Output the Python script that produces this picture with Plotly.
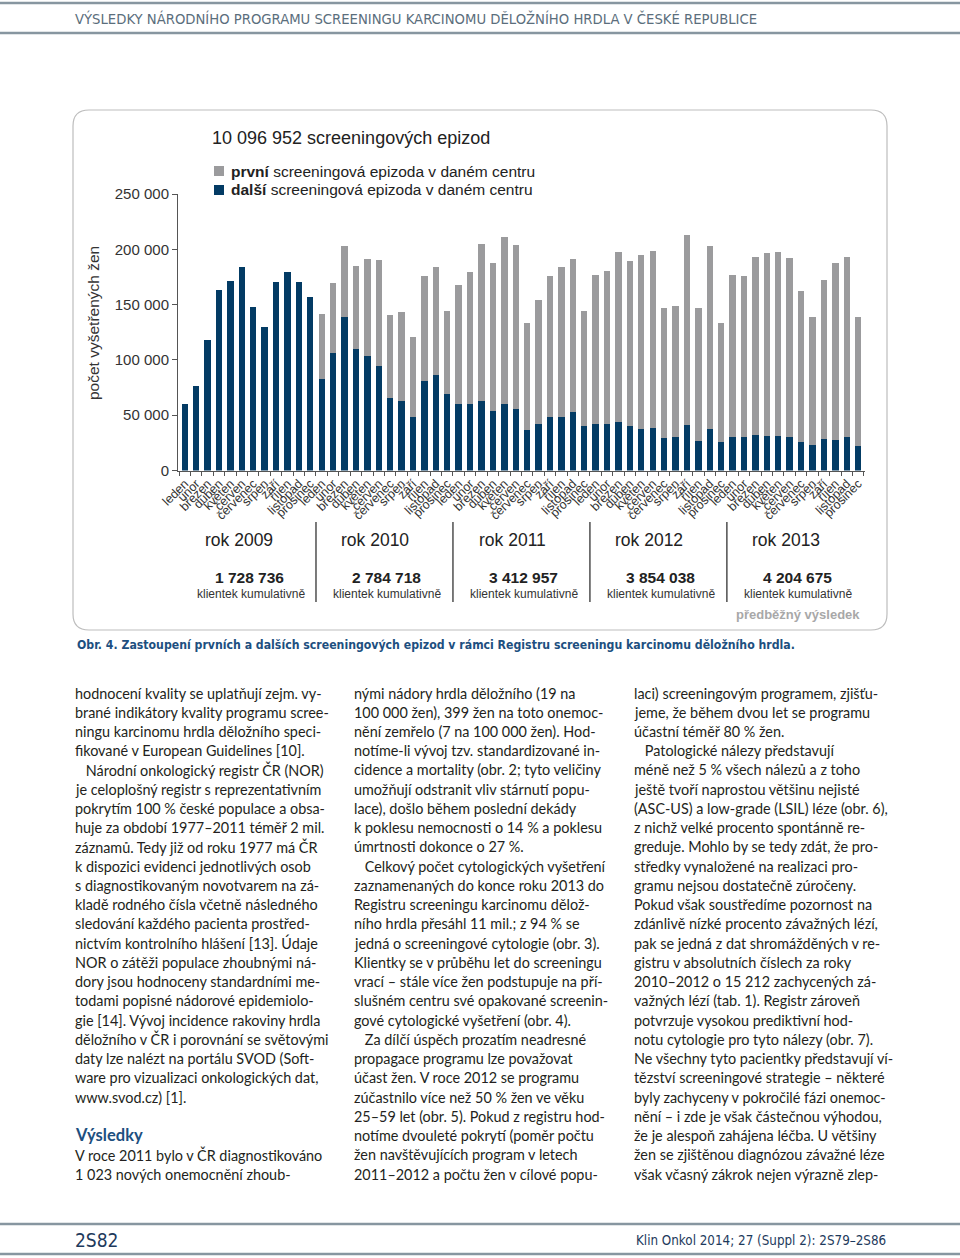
import plotly.graph_objects as go

W, H = 960, 1258

# ---------------- data ----------------
months = ["leden", "únor", "březen", "duben", "květen", "červen",
          "červenec", "srpen", "září", "říjen", "listopad", "prosinec"]
year_labels = ["rok 2009", "rok 2010", "rok 2011", "rok 2012", "rok 2013"]
cumulative_clients = ["1 728 736", "2 784 718", "3 412 957", "3 854 038", "4 204 675"]

# dark segment (legend: "další")
dalsi = [60500, 76500, 118300, 163000, 171300, 184000, 147500, 129800, 170700, 179500, 170700, 157200,
         82700, 106600, 138800, 110200, 103300, 94500, 65900, 63200, 48800, 81000, 86400, 69500,
         60500, 60500, 63200, 54200, 59900, 56000, 36400, 41800, 48200, 48800, 52700, 40000,
         41800, 41800, 43600, 40000, 37300, 38200, 29200, 30100, 40900, 26800, 37300, 25900,
         30100, 30100, 31900, 31000, 31000, 30100, 25900, 23200, 28600, 27700, 30100, 22300]
# grey segment (legend: "první")
prvni = [0, 0, 0, 0, 0, 0, 0, 0, 0, 0, 0, 0,
         58500, 63100, 63900, 74700, 87600, 95500, 74400, 79800, 72200, 94800, 97500, 74400,
         107500, 118900, 141200, 133300, 151400, 147500, 96700, 112000, 127600, 135100, 138200, 103900,
         135200, 138500, 153600, 149000, 158000, 159900, 117400, 118300, 172200, 119800, 165300, 107200,
         146900, 145700, 160700, 165300, 166200, 161600, 136000, 115600, 143900, 159800, 162500, 116500]

y_tick_values = [0, 50000, 100000, 150000, 200000, 250000]
y_tick_labels = ["0", "50 000", "100 000", "150 000", "200 000", "250 000"]

month_labels = months * 5
xpos = list(range(len(month_labels)))

NAVY = "#033b64"
GREY = "#9b9b9d"
CHART_FONT = "Liberation Sans, Arial, sans-serif"
BODY_FONT = "Lato, Noto Sans, sans-serif"
COND_FONT = "Liberation Sans Narrow, Arial Narrow, DejaVu Sans Condensed, sans-serif"
TXT = "#231f20"


def px(x):
    return x / W


def py(y):
    return 1 - y / H


fig = go.Figure()
fig.add_trace(go.Bar(x=xpos, y=dalsi, marker_color=NAVY, width=0.56,
                     name="další", showlegend=False, marker_line_width=0))
fig.add_trace(go.Bar(x=xpos, y=prvni, marker_color=GREY, width=0.56,
                     name="první", showlegend=False, marker_line_width=0))

annotations = []


def ann(text, x, y, size, color=TXT, xanchor="left", family=CHART_FONT,
        xref="paper", textangle=0, xshift=0, yanchor="middle"):
    annotations.append(dict(
        text=text, x=(px(x) if xref == "paper" else x), y=py(y), xref=xref, yref="paper",
        xanchor=xanchor, yanchor=yanchor, showarrow=False, textangle=textangle, xshift=xshift,
        font=dict(size=size, color=color, family=family)))


# header / footer
ann("VÝSLEDKY NÁRODNÍHO PROGRAMU SCREENINGU KARCINOMU DĚLOŽNÍHO HRDLA V ČESKÉ REPUBLICE",
    73, 19, 14.7, "#5b6e7c", family=COND_FONT)
ann("2S82", 73, 1240, 19, "#1e3a5c", family=COND_FONT)
ann("Klin Onkol 2014; 27 (Suppl 2): 2S79–2S86", 888, 1240, 13.3, "#1e3a5c",
    xanchor="right", family=COND_FONT)

# chart texts
ann("10 096 952 screeningových epizod", 210, 138, 18, "#222")
ann("<b>první</b> screeningová epizoda v daném centru", 229, 171, 15.5, "#222")
ann("<b>další</b> screeningová epizoda v daném centru", 229, 190, 15.5, "#222")
ann("počet vyšetřených žen", 93, 323, 15.5, "#333", xanchor="center", textangle=-90)

for k in range(5):
    cx = 12 * k + 5.5
    ann(year_labels[k], cx, 540, 17.5, "#222", xanchor="center", xref="x", xshift=-9)
    ann("<b>" + cumulative_clients[k] + "</b>", cx, 577, 15.5, "#222", xanchor="center", xref="x", xshift=2)
    ann("klientek kumulativně", cx, 594, 12, "#333", xanchor="center", xref="x", xshift=3)
ann("<b>předběžný výsledek</b>", 862, 614, 13, "#a8a8a8", xanchor="right")

ann("<b>Obr. 4. Zastoupení prvních a dalších screeningových epizod v rámci Registru screeningu karcinomu děložního hrdla.</b>",
    75, 645, 12.2, "#1d4f80", family=COND_FONT)

# body text
col1 = [
    "hodnocení kvality se uplatňují zejm. vy-",
    "brané indikátory kvality programu scree-",
    "ningu karcinomu hrdla děložního speci-",
    "fikované v European Guidelines [10].",
    "\u2003Národní onkologický registr ČR (NOR)",
    "je celoplošný registr s reprezentativním",
    "pokrytím 100 % české populace a obsa-",
    "huje za období 1977–2011 téměř 2 mil.",
    "záznamů. Tedy již od roku 1977 má ČR",
    "k dispozici evidenci jednotlivých osob",
    "s diagnostikovaným novotvarem na zá-",
    "kladě rodného čísla včetně následného",
    "sledování každého pacienta prostřed-",
    "nictvím kontrolního hlášení [13]. Údaje",
    "NOR o zátěži populace zhoubnými ná-",
    "dory jsou hodnoceny standardními me-",
    "todami popisné nádorové epidemiolo-",
    "gie [14]. Vývoj incidence rakoviny hrdla",
    "děložního v ČR i porovnání se světovými",
    "daty lze nalézt na portálu SVOD (Soft-",
    "ware pro vizualizaci onkologických dat,",
    "www.svod.cz) [1].",
]
col1_tail = [
    "V roce 2011 bylo v ČR diagnostikováno",
    "1 023 nových onemocnění zhoub-",
]
col2 = [
    "nými nádory hrdla děložního (19 na",
    "100 000 žen), 399 žen na toto onemoc-",
    "nění zemřelo (7 na 100 000 žen). Hod-",
    "notíme-li vývoj tzv. standardizované in-",
    "cidence a mortality (obr. 2; tyto veličiny",
    "umožňují odstranit vliv stárnutí popu-",
    "lace), došlo během poslední dekády",
    "k poklesu nemocnosti o 14 % a poklesu",
    "úmrtnosti dokonce o 27 %.",
    "\u2003Celkový počet cytologických vyšetření",
    "zaznamenaných do konce roku 2013 do",
    "Registru screeningu karcinomu dělož-",
    "ního hrdla přesáhl 11 mil.; z 94 % se",
    "jedná o screeningové cytologie (obr. 3).",
    "Klientky se v průběhu let do screeningu",
    "vrací – stále více žen podstupuje na pří-",
    "slušném centru své opakované screenin-",
    "gové cytologické vyšetření (obr. 4).",
    "\u2003Za dílčí úspěch prozatím neadresné",
    "propagace programu lze považovat",
    "účast žen. V roce 2012 se programu",
    "zúčastnilo více než 50 % žen ve věku",
    "25–59 let (obr. 5). Pokud z registru hod-",
    "notíme dvouleté pokrytí (poměr počtu",
    "žen navštěvujících program v letech",
    "2011–2012 a počtu žen v cílové popu-",
]
col3 = [
    "laci) screeningovým programem, zjišťu-",
    "jeme, že během dvou let se programu",
    "účastní téměř 80 % žen.",
    "\u2003Patologické nálezy představují",
    "méně než 5 % všech nálezů a z toho",
    "ještě tvoří naprostou většinu nejisté",
    "(ASC-US) a low-grade (LSIL) léze (obr. 6),",
    "z nichž velké procento spontánně re-",
    "greduje. Mohlo by se tedy zdát, že pro-",
    "středky vynaložené na realizaci pro-",
    "gramu nejsou dostatečně zúročeny.",
    "Pokud však soustředíme pozornost na",
    "zdánlivě nízké procento závažných lézí,",
    "pak se jedná z dat shromážděných v re-",
    "gistru v absolutních číslech za roky",
    "2010–2012 o 15 212 zachycených zá-",
    "važných lézí (tab. 1). Registr zároveň",
    "potvrzuje vysokou prediktivní hod-",
    "notu cytologie pro tyto nálezy (obr. 7).",
    "Ne všechny tyto pacientky představují ví-",
    "tězství screeningové strategie – některé",
    "byly zachyceny v pokročilé fázi onemoc-",
    "nění – i zde je však částečnou výhodou,",
    "že je alespoň zahájena léčba. U většiny",
    "žen se zjištěnou diagnózou závažné léze",
    "však včasný zákrok nejen výrazně zlep-",
]
LH = 19.24
BS = 14.4
for i, t in enumerate(col1):
    ann(t, 73, 693 + i * LH, BS, TXT, family=BODY_FONT)
ann("<b>Výsledky</b>", 73, 1135, 16.5, "#1d4f80", family=BODY_FONT)
for i, t in enumerate(col1_tail):
    ann(t, 73, 1155 + i * LH, BS, TXT, family=BODY_FONT)
for i, t in enumerate(col2):
    ann(t, 352, 693 + i * LH, BS, TXT, family=BODY_FONT)
for i, t in enumerate(col3):
    ann(t, 632, 693 + i * LH, BS, TXT, family=BODY_FONT)

# ---------------- shapes ----------------
shapes = []
line_col = "#8796a0"
for yy in (3, 33, 1224, 1254):
    shapes.append(dict(type="line", xref="paper", yref="paper", x0=0, x1=1, y0=py(yy), y1=py(yy),
                       line=dict(color=line_col, width=2.5)))

# rounded frame
x0, x1, y0, y1, r = 73, 887, 110, 630, 16
rx, ry = r / W, r / H
path = (f"M {px(x0)+rx},{py(y0)} L {px(x1)-rx},{py(y0)} Q {px(x1)},{py(y0)} {px(x1)},{py(y0)-ry} "
        f"L {px(x1)},{py(y1)+ry} Q {px(x1)},{py(y1)} {px(x1)-rx},{py(y1)} "
        f"L {px(x0)+rx},{py(y1)} Q {px(x0)},{py(y1)} {px(x0)},{py(y1)+ry} "
        f"L {px(x0)},{py(y0)-ry} Q {px(x0)},{py(y0)} {px(x0)+rx},{py(y0)} Z")
shapes.append(dict(type="path", path=path, xref="paper", yref="paper",
                   line=dict(color="#bdbdbd", width=1.2)))

# legend swatches
shapes.append(dict(type="rect", xref="paper", yref="paper", x0=px(214), x1=px(224), y0=py(176), y1=py(166),
                   fillcolor=GREY, line_width=0))
shapes.append(dict(type="rect", xref="paper", yref="paper", x0=px(214), x1=px(224), y0=py(195), y1=py(185),
                   fillcolor=NAVY, line_width=0))

# year separators
for b in (11.5, 23.5, 35.5, 47.5):
    shapes.append(dict(type="line", xref="x", yref="paper", x0=b, x1=b, y0=py(522), y1=py(602),
                       line=dict(color="#333", width=1.3)))

fig.update_layout(
    width=W, height=H, autosize=False,
    margin=dict(l=0, r=0, t=0, b=0, pad=0, autoexpand=False),
    paper_bgcolor="white", plot_bgcolor="white",
    barmode="stack", bargap=0,
    showlegend=False, hovermode=False,
    annotations=annotations, shapes=shapes,
    xaxis=dict(domain=[px(178), px(865)], range=[-0.59, 59.6], automargin=False,
               tickvals=xpos, ticktext=month_labels, tickangle=-45,
               tickfont=dict(size=12.5, color="#333", family=CHART_FONT),
               ticks="", showline=True, linecolor="#555", linewidth=1,
               showgrid=False, zeroline=False,
               minor=dict(tickvals=[i + 0.5 for i in range(-1, 60)], ticks="outside",
                          ticklen=4, tickcolor="#555", showgrid=False)),
    yaxis=dict(domain=[py(470.5), py(194)], range=[0, 250000], automargin=False,
               tickvals=y_tick_values, ticktext=y_tick_labels,
               tickfont=dict(size=15, color="#333", family=CHART_FONT),
               ticks="outside", ticklen=5, tickcolor="#555",
               showline=True, linecolor="#555", linewidth=1,
               showgrid=False, zeroline=False),
)

fig.write_html("out.html", config={"displayModeBar": False, "staticPlot": True},
               post_script="document.body.style.margin='0';document.body.style.overflow='hidden';")
